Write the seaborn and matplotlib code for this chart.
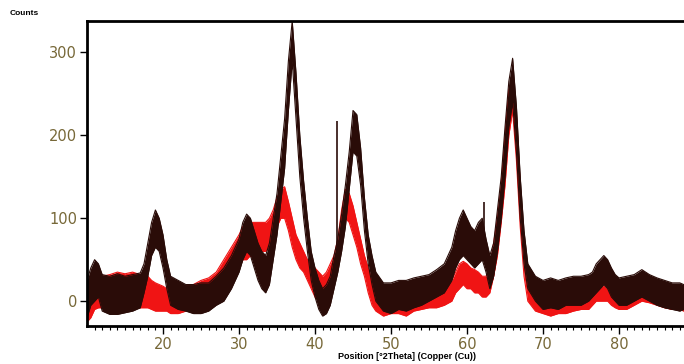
import numpy as np
import pandas as pd
import matplotlib
matplotlib.use("Agg")
import matplotlib.pyplot as plt
import seaborn as sns

# --- 2theta positions (deg) and envelope of the noisy traces (counts) ---
theta = [10, 10.5, 11, 11.5, 12, 13, 14, 15, 16, 17,
         17.5, 18, 18.5, 19, 19.5, 20, 20.5, 21, 22, 23,
         24, 25, 26, 27, 28, 29, 30, 30.5, 31, 31.5,
         32, 32.5, 33, 33.5, 34, 34.5, 35, 35.5, 36, 36.5,
         37, 37.5, 38, 38.5, 39, 39.5, 40, 40.5, 41, 41.5,
         42, 42.5, 43, 43.5, 44, 44.5, 45, 45.5, 46, 46.5,
         47, 47.5, 48, 49, 50, 51, 52, 53, 54, 55,
         56, 57, 58, 58.5, 59, 59.5, 60, 60.5, 61, 61.5,
         62, 62.5, 63, 63.5, 64, 64.5, 65, 65.5, 66, 66.5,
         67, 67.5, 68, 69, 70, 71, 72, 73, 74, 75,
         76, 76.5, 77, 77.5, 78, 78.5, 79, 79.5, 80, 81,
         82, 83, 84, 85, 86, 87, 88, 88.5]

dark_lo = [-20, -5, 0, 5, -12, -16, -16, -14, -12, -8,
           10, 30, 55, 65, 60, 40, 15, -5, -10, -12,
           -15, -15, -12, -5, 0, 15, 35, 50, 60, 55,
           40, 25, 15, 10, 20, 50, 80, 120, 160, 230,
           290, 220, 150, 100, 60, 25, 5, -10, -18, -15,
           -5, 15, 35, 60, 90, 135, 180, 175, 140, 85,
           45, 20, 0, -12, -15, -10, -12, -8, -5, 0,
           5, 10, 25, 40, 50, 55, 50, 45, 40, 45,
           50, 35, 15, 30, 60, 100, 150, 210, 240, 180,
           100, 45, 15, 0, -10, -8, -10, -5, -5, -5,
           0, 5, 10, 15, 20, 15, 5, 0, -5, -5,
           0, 5, 0, -5, -8, -10, -12, -10]
dark_hi = [25, 40, 50, 45, 32, 30, 33, 30, 32, 34,
           45, 70, 95, 110, 100, 80, 50, 30, 25, 20,
           20, 22, 22, 30, 40, 55, 75, 95, 105, 100,
           85, 70, 60, 55, 70, 100, 130, 175, 220, 290,
           338, 275, 200, 145, 100, 60, 40, 25, 15, 20,
           30, 55, 75, 105, 140, 180, 230, 225, 185, 125,
           80, 55, 35, 22, 22, 25, 25, 28, 30, 32,
           38, 45, 65, 85, 100, 110, 100, 90, 85, 95,
           100, 75, 55, 70, 110, 150, 210, 265, 293, 235,
           150, 85, 45, 30, 25, 28, 25, 28, 30, 30,
           32, 35, 45, 50, 55, 50, 40, 32, 28, 30,
           32, 38, 32, 28, 25, 22, 22, 20]

red_lo = [-25, -20, -10, -8, -8, -10, -8, -10, -8, -8,
          -8, -8, -10, -12, -12, -12, -12, -15, -15, -12,
          -10, -8, -5, 0, 15, 25, 40, 50, 50, 55,
          50, 55, 60, 60, 65, 75, 90, 100, 100, 85,
          65, 50, 40, 35, 25, 15, 5, 0, 0, 0,
          10, 20, 40, 70, 100, 95, 80, 65, 45, 30,
          10, -5, -12, -18, -15, -15, -18, -12, -10, -8,
          -8, -5, 0, 10, 15, 20, 15, 15, 10, 10,
          5, 5, 10, 30, 55, 95, 140, 200, 230, 170,
          90, 30, 0, -12, -15, -18, -15, -15, -12, -10,
          -10, -5, 0, 0, 0, 0, -5, -8, -10, -10,
          -5, 0, -2, -5, -8, -10, -10, -12]
red_hi = [5, 10, 20, 28, 30, 32, 35, 33, 35, 32,
          35, 30, 25, 22, 20, 18, 15, 15, 15, 18,
          20, 25, 28, 35, 50, 65, 80, 90, 95, 95,
          95, 95, 95, 95, 100, 110, 125, 135, 138, 120,
          100, 80, 70, 60, 50, 45, 40, 35, 30, 35,
          45, 55, 75, 110, 135, 130, 115, 95, 75, 55,
          40, 25, 15, 10, 12, 12, 10, 12, 15, 15,
          15, 18, 25, 35, 45, 48, 45, 40, 38, 35,
          30, 30, 40, 70, 100, 140, 200, 255, 270, 225,
          140, 70, 25, 12, 10, 8, 10, 10, 12, 12,
          12, 12, 15, 18, 18, 15, 12, 10, 10, 10,
          15, 20, 18, 15, 12, 10, 8, 8]

# sharp single-channel spikes in the dark scan
spike_theta = [42.85, 62.2]
spike_base = [40, 60]
spike_top = [217, 120]

dark_color = '#2a0c08'
red_color = '#f01414'

rows = []
for name, lo, hi in [('red', red_lo, red_hi), ('dark', dark_lo, dark_hi)]:
    for t, a, b in zip(theta, lo, hi):
        rows.append({'theta': t, 'lo': a, 'hi': b, 'scan': name})
df = pd.DataFrame(rows)

# --- Figure ---
sns.set_style("ticks")
fig = plt.figure(figsize=(6.84, 3.64), dpi=100)
ax = fig.add_axes([0.1272, 0.1044, 0.8728, 0.838])

colors = {'red': red_color, 'dark': dark_color}
for name in ['red', 'dark']:
    sub = df[df['scan'] == name]
    ax.fill_between(sub['theta'], sub['lo'], sub['hi'], color=colors[name], lw=0, zorder=2)
    sns.lineplot(data=sub, x='theta', y='lo', color=colors[name], lw=0.8, ax=ax, zorder=2)
    sns.lineplot(data=sub, x='theta', y='hi', color=colors[name], lw=0.8, ax=ax, zorder=2)

ax.vlines(spike_theta, spike_base, spike_top, color=dark_color, lw=1.2, zorder=3)

ax.set_xlim(10, 88.55)
ax.set_ylim(-30, 338)
ax.set_xticks([20, 30, 40, 50, 60, 70, 80])
ax.set_xticks(np.arange(11, 89, 1), minor=True)
ax.set_yticks([0, 100, 200, 300])
ax.set_xlabel('')
ax.set_ylabel('')

for side in ['left', 'top', 'bottom']:
    ax.spines[side].set_linewidth(2)
    ax.spines[side].set_color('black')
ax.spines['right'].set_visible(False)

tick_color = '#776838'
ax.tick_params(axis='both', which='major', direction='out', length=5, width=1,
               color='black', labelcolor=tick_color, labelsize=10.5, pad=2)
ax.tick_params(axis='x', which='minor', direction='out', length=3, width=0.8, color='black')
ax.tick_params(axis='x', which='major', length=6)

fig.text(0.014, 0.962, 'Counts', fontsize=6, fontweight='bold', color='black',
         family='Liberation Sans', ha='left', va='center')
fig.text(0.595, 0.02, 'Position [°2Theta] (Copper (Cu))', fontsize=6.5, fontweight='bold',
         color='black', family='Liberation Sans', ha='center', va='center')

plt.savefig('out.png', dpi=100)
